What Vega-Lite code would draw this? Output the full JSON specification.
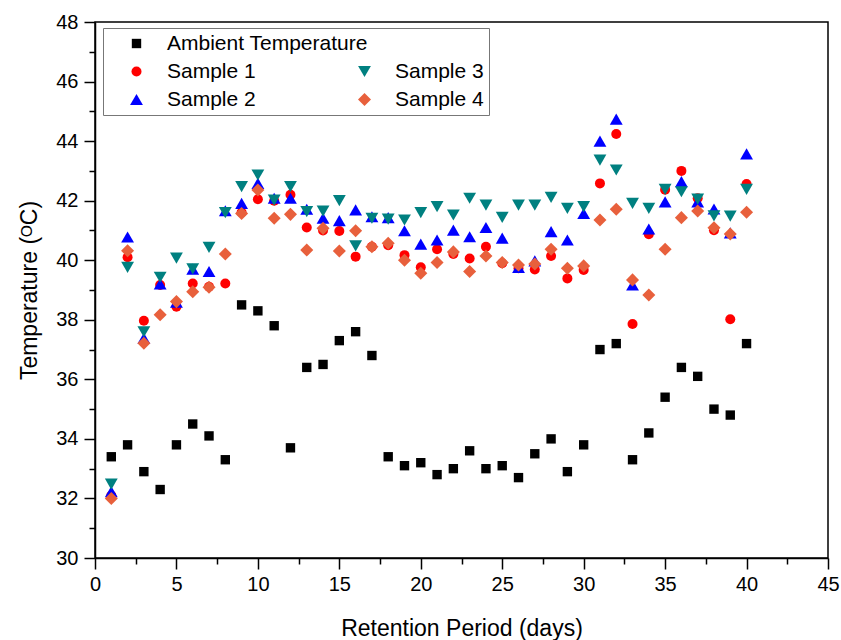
{
  "$schema": "https://vega.github.io/schema/vega-lite/v6.json",
  "width": 733,
  "height": 536,
  "autosize": {"type": "none"},
  "padding": {"left": 95, "top": 22, "right": 13, "bottom": 82},
  "background": "white",
  "config": {
    "font": "Liberation Sans",
    "view": {"stroke": "black", "strokeWidth": 1.5},
    "axis": {
      "grid": false,
      "domainColor": "black",
      "domainWidth": 1.5,
      "tickColor": "black",
      "tickWidth": 1.5,
      "labelColor": "black",
      "titleColor": "black",
      "labelFont": "Liberation Sans",
      "titleFont": "Liberation Sans",
      "labelFontSize": 20,
      "titleFontSize": 23,
      "titleFontWeight": "normal",
      "labelFlush": false,
      "labelOverlap": false,
      "labelBound": false
    },
    "legend": {
      "title": null,
      "orient": "none",
      "legendX": 8,
      "legendY": 6,
      "columns": 2,
      "gridAlign": "none",
      "columnPadding": -32,
      "rowPadding": 6,
      "padding": 5,
      "strokeColor": "#777777",
      "fillColor": "white",
      "labelFontSize": 21,
      "labelFont": "Liberation Sans",
      "labelColor": "black",
      "labelLimit": 400,
      "symbolOffset": 18,
      "labelOffset": 20,
      "symbolStrokeWidth": 0
    }
  },
  "data": {
    "values": [
      {"day": 1, "Ambient Temperature": 33.4, "Sample 1": 32.1, "Sample 2": 32.23, "Sample 3": 32.48, "Sample 4": 32.0},
      {"day": 2, "Ambient Temperature": 33.8, "Sample 1": 40.1, "Sample 2": 40.78, "Sample 3": 39.76, "Sample 4": 40.32},
      {"day": 3, "Ambient Temperature": 32.9, "Sample 1": 37.97, "Sample 2": 37.38, "Sample 3": 37.6, "Sample 4": 37.21},
      {"day": 4, "Ambient Temperature": 32.3, "Sample 1": 39.17, "Sample 2": 39.2, "Sample 3": 39.43, "Sample 4": 38.17},
      {"day": 5, "Ambient Temperature": 33.8, "Sample 1": 38.44, "Sample 2": 38.59, "Sample 3": 40.07, "Sample 4": 38.61},
      {"day": 6, "Ambient Temperature": 34.5, "Sample 1": 39.22, "Sample 2": 39.7, "Sample 3": 39.71, "Sample 4": 38.94},
      {"day": 7, "Ambient Temperature": 34.1, "Sample 1": 39.11, "Sample 2": 39.62, "Sample 3": 40.43, "Sample 4": 39.09},
      {"day": 8, "Ambient Temperature": 33.3, "Sample 1": 39.22, "Sample 2": 41.66, "Sample 3": 41.6, "Sample 4": 40.21},
      {"day": 9, "Ambient Temperature": 38.5, "Sample 1": 41.6, "Sample 2": 41.91, "Sample 3": 42.47, "Sample 4": 41.57},
      {"day": 10, "Ambient Temperature": 38.3, "Sample 1": 42.05, "Sample 2": 42.58, "Sample 3": 42.86, "Sample 4": 42.36},
      {"day": 11, "Ambient Temperature": 37.8, "Sample 1": 42.0, "Sample 2": 42.08, "Sample 3": 42.02, "Sample 4": 41.41},
      {"day": 12, "Ambient Temperature": 33.7, "Sample 1": 42.2, "Sample 2": 42.08, "Sample 3": 42.47, "Sample 4": 41.54},
      {"day": 13, "Ambient Temperature": 36.4, "Sample 1": 41.1, "Sample 2": 41.71, "Sample 3": 41.63, "Sample 4": 40.34},
      {"day": 14, "Ambient Temperature": 36.5, "Sample 1": 41.0, "Sample 2": 41.41, "Sample 3": 41.65, "Sample 4": 41.07},
      {"day": 15, "Ambient Temperature": 37.3, "Sample 1": 40.98, "Sample 2": 41.33, "Sample 3": 42.0, "Sample 4": 40.31},
      {"day": 16, "Ambient Temperature": 37.6, "Sample 1": 40.12, "Sample 2": 41.69, "Sample 3": 40.48, "Sample 4": 40.99},
      {"day": 17, "Ambient Temperature": 36.8, "Sample 1": 40.45, "Sample 2": 41.46, "Sample 3": 41.41, "Sample 4": 40.45},
      {"day": 18, "Ambient Temperature": 33.4, "Sample 1": 40.5, "Sample 2": 41.43, "Sample 3": 41.38, "Sample 4": 40.57},
      {"day": 19, "Ambient Temperature": 33.1, "Sample 1": 40.17, "Sample 2": 40.99, "Sample 3": 41.35, "Sample 4": 40.0},
      {"day": 20, "Ambient Temperature": 33.2, "Sample 1": 39.76, "Sample 2": 40.54, "Sample 3": 41.6, "Sample 4": 39.56},
      {"day": 21, "Ambient Temperature": 32.8, "Sample 1": 40.37, "Sample 2": 40.68, "Sample 3": 41.8, "Sample 4": 39.92},
      {"day": 22, "Ambient Temperature": 33.0, "Sample 1": 40.21, "Sample 2": 41.01, "Sample 3": 41.52, "Sample 4": 40.28},
      {"day": 23, "Ambient Temperature": 33.6, "Sample 1": 40.06, "Sample 2": 40.79, "Sample 3": 42.08, "Sample 4": 39.62},
      {"day": 24, "Ambient Temperature": 33.0, "Sample 1": 40.45, "Sample 2": 41.1, "Sample 3": 41.85, "Sample 4": 40.14},
      {"day": 25, "Ambient Temperature": 33.1, "Sample 1": 39.9, "Sample 2": 40.74, "Sample 3": 41.44, "Sample 4": 39.92},
      {"day": 26, "Ambient Temperature": 32.7, "Sample 1": 39.73, "Sample 2": 39.76, "Sample 3": 41.85, "Sample 4": 39.84},
      {"day": 27, "Ambient Temperature": 33.5, "Sample 1": 39.69, "Sample 2": 39.98, "Sample 3": 41.85, "Sample 4": 39.87},
      {"day": 28, "Ambient Temperature": 34.0, "Sample 1": 40.14, "Sample 2": 40.96, "Sample 3": 42.11, "Sample 4": 40.37},
      {"day": 29, "Ambient Temperature": 32.9, "Sample 1": 39.39, "Sample 2": 40.68, "Sample 3": 41.74, "Sample 4": 39.73},
      {"day": 30, "Ambient Temperature": 33.8, "Sample 1": 39.67, "Sample 2": 41.57, "Sample 3": 41.8, "Sample 4": 39.81},
      {"day": 31, "Ambient Temperature": 37.0, "Sample 1": 42.58, "Sample 2": 44.0, "Sample 3": 43.36, "Sample 4": 41.35},
      {"day": 32, "Ambient Temperature": 37.2, "Sample 1": 44.24, "Sample 2": 44.74, "Sample 3": 43.03, "Sample 4": 41.71},
      {"day": 33, "Ambient Temperature": 33.3, "Sample 1": 37.86, "Sample 2": 39.17, "Sample 3": 41.91, "Sample 4": 39.34},
      {"day": 34, "Ambient Temperature": 34.2, "Sample 1": 40.87, "Sample 2": 41.05, "Sample 3": 41.74, "Sample 4": 38.83},
      {"day": 35, "Ambient Temperature": 35.4, "Sample 1": 42.37, "Sample 2": 41.96, "Sample 3": 42.38, "Sample 4": 40.37},
      {"day": 36, "Ambient Temperature": 36.4, "Sample 1": 43.0, "Sample 2": 42.64, "Sample 3": 42.3, "Sample 4": 41.43},
      {"day": 37, "Ambient Temperature": 36.1, "Sample 1": 42.08, "Sample 2": 41.96, "Sample 3": 42.05, "Sample 4": 41.65},
      {"day": 38, "Ambient Temperature": 35.0, "Sample 1": 41.01, "Sample 2": 41.72, "Sample 3": 41.49, "Sample 4": 41.09},
      {"day": 39, "Ambient Temperature": 34.8, "Sample 1": 38.02, "Sample 2": 40.92, "Sample 3": 41.48, "Sample 4": 40.88},
      {"day": 40, "Ambient Temperature": 37.2, "Sample 1": 42.56, "Sample 2": 43.57, "Sample 3": 42.38, "Sample 4": 41.61}
    ]
  },
  "transform": [
    {"fold": ["Ambient Temperature", "Sample 1", "Sample 2", "Sample 3", "Sample 4"], "as": ["series", "temp"]}
  ],
  "mark": {"type": "point", "filled": true, "opacity": 1},
  "encoding": {
    "x": {
      "field": "day",
      "type": "quantitative",
      "scale": {"domain": [0, 45], "nice": false, "zero": false},
      "axis": {
        "title": "Retention Period (days)",
        "values": [0, 2.5, 5, 7.5, 10, 12.5, 15, 17.5, 20, 22.5, 25, 27.5, 30, 32.5, 35, 37.5, 40, 42.5, 45],
        "labelExpr": "datum.value % 5 === 0 ? datum.label : ''",
        "tickSize": {"condition": {"test": "datum.value % 5 === 0", "value": 11}, "value": 6},
        "labelPadding": 5,
        "titlePadding": 23
      }
    },
    "y": {
      "field": "temp",
      "type": "quantitative",
      "scale": {"domain": [30, 48], "nice": false, "zero": false},
      "axis": {
        "title": "Temperature (ᴼC)",
        "values": [30, 31, 32, 33, 34, 35, 36, 37, 38, 39, 40, 41, 42, 43, 44, 45, 46, 47, 48],
        "labelExpr": "datum.value % 2 === 0 ? datum.label : ''",
        "tickSize": {"condition": {"test": "datum.value % 2 === 0", "value": 11}, "value": 6},
        "labelPadding": 6,
        "titlePadding": 14
      }
    },
    "shape": {
      "field": "series",
      "type": "nominal",
      "scale": {
        "domain": ["Ambient Temperature", "Sample 1", "Sample 2", " ", "Sample 3", "Sample 4"],
        "range": ["square", "circle", "triangle-up", "circle", "triangle-down", "diamond"]
      },
      "legend": {}
    },
    "color": {
      "field": "series",
      "type": "nominal",
      "scale": {
        "domain": ["Ambient Temperature", "Sample 1", "Sample 2", " ", "Sample 3", "Sample 4"],
        "range": ["#000000", "#ff0000", "#0000ff", "transparent", "#008080", "#e8603c"]
      },
      "legend": {}
    },
    "size": {
      "field": "series",
      "type": "nominal",
      "scale": {
        "type": "ordinal",
        "domain": ["Ambient Temperature", "Sample 1", "Sample 2", " ", "Sample 3", "Sample 4"],
        "range": [88, 100, 165, 10, 165, 170]
      },
      "legend": {}
    }
  }
}
